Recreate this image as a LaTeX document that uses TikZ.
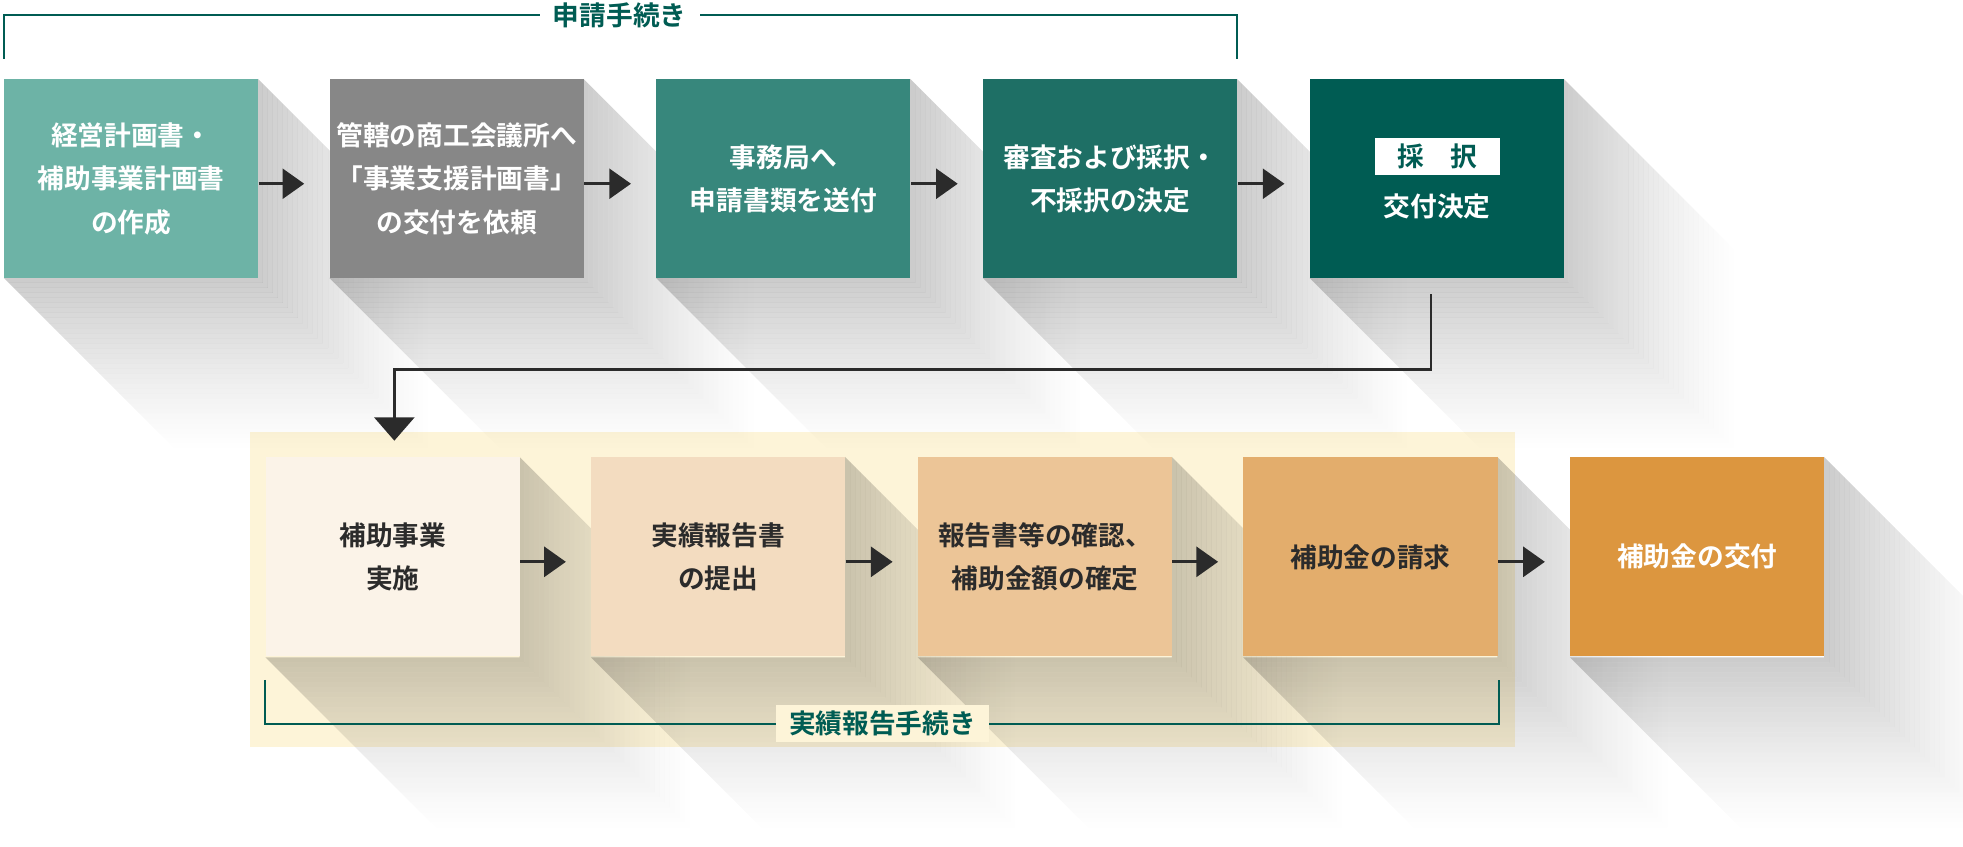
\documentclass[tikz,border=0pt]{standalone}
\usepackage{fontspec}
\setmainfont{Noto Sans CJK JP}[BoldFont={* Bold}]
\usetikzlibrary{arrows.meta}
\definecolor{g1}{HTML}{6DB3A6}\definecolor{g2}{HTML}{878787}\definecolor{g3}{HTML}{37877C}
\definecolor{g4}{HTML}{1E6F65}\definecolor{g5}{HTML}{005C53}
\definecolor{o1}{HTML}{FBF3E8}\definecolor{o2}{HTML}{F3DCC0}\definecolor{o3}{HTML}{ECC597}
\definecolor{o4}{HTML}{E3AD6C}\definecolor{o5}{HTML}{DC963F}
\definecolor{bg}{HTML}{FDF4D8}\definecolor{txt}{HTML}{2B2B2B}\definecolor{lab}{HTML}{005C53}
\tikzset{
 box/.style={minimum width=152.25pt,minimum height=119.25pt,inner sep=0pt,align=center,font=\bfseries\fontsize{16}{26}\selectfont,text=white},
 dbox/.style={box,text=txt},
 arr/.style={line width=1.6pt,draw=txt,-{Triangle[length=13pt,width=18pt]}},
 brk/.style={line width=1.2pt,draw=lab},
 blab/.style={fill=white,inner xsep=8pt,text=lab,font=\bfseries\fontsize{16}{18}\selectfont}
}
\newcommand{\shad}[4]{\foreach \k in {0,4,...,136}{
 \pgfmathsetmacro{\op}{0.2*(1-\k/140)^1.3}
 \fill[black,opacity=\op]
 (#2+\k,#3+\k) -- (#2+\k+4,#3+\k+4) -- (#2+\k+4,#4+\k+4) -- (#1+\k+4,#4+\k+4) -- (#1+\k,#4+\k) -- (#2+\k,#4+\k) -- cycle;}}
\begin{document}
\begin{tikzpicture}[x=0.75pt,y=-0.75pt]
\useasboundingbox (0,0) rectangle (1568,676);
\fill[bg] (200,345) rectangle (1210,597);
\foreach \a in {3,263,524,785,1046}{\shad{\a}{\a+203}{63}{222}}
\foreach \a in {212,472,733,993,1254}{\shad{\a}{\a+203}{365}{525}}
\node[box,fill=g1,anchor=north west] (a1) at (3,63) {経営計画書・\\補助事業計画書\\の作成};
\node[box,fill=g2,anchor=north west] (a2) at (263,63) {管轄の商工会議所へ\\「事業支援計画書」\\の交付を依頼};
\node[box,fill=g3,anchor=north west] (a3) at (524,63) {事務局へ\\申請書類を送付};
\node[box,fill=g4,anchor=north west] (a4) at (785,63) {審査および採択・\\不採択の決定};
\node[box,fill=g5,anchor=north west] (a5) at (1046,63) {};
\node[fill=white,text=g5,minimum width=75pt,minimum height=22.5pt,font=\bfseries\fontsize{16}{18}\selectfont] (k) at (1148,125) {採\hspace{1em}択};
\node[text=white,font=\bfseries\fontsize{16}{18}\selectfont] (k2) at (1148,165) {交付決定};
\node[dbox,fill=o1,anchor=north west] (b1) at (212,365) {補助事業\\実施};
\node[dbox,fill=o2,anchor=north west] (b2) at (472,365) {実績報告書\\の提出};
\node[dbox,fill=o3,anchor=north west] (b3) at (733,365) {報告書等の確認、\\補助金額の確定};
\node[dbox,fill=o4,anchor=north west] (b4) at (993,365) {補助金の請求};
\node[box,fill=o5,anchor=north west] (b5) at (1254,365) {補助金の交付};
\foreach \p/\q in {a1/a2,a2/a3,a3/a4,a4/a5,b1/b2,b2/b3,b3/b4,b4/b5}
 \draw[arr] ([yshift=-3pt]\p.east) -- ([xshift=-15pt,yshift=-3pt]\q.west);
\coordinate (c1) at (1143,235);\coordinate (c2) at (315,352);
\draw[line width=1.6pt,draw=txt,-{Triangle[length=14pt,width=24pt]}] (c1) -- (1143,295) -- (315,295) -- (c2);
\coordinate (t1) at (3,47);\coordinate (t2) at (988,47);
\draw[brk] (t1) -- (3,12) -- (988,12) -- (t2);
\node[blab] (tl) at (495,12) {申請手続き};
\coordinate (u1) at (212,543);\coordinate (u2) at (1197,543);
\draw[brk] (u1) -- (212,578) -- (1197,578) -- (u2);
\node[blab,fill=bg] (ul) at (705,578) {実績報告手続き};
\end{tikzpicture}
\end{document}
